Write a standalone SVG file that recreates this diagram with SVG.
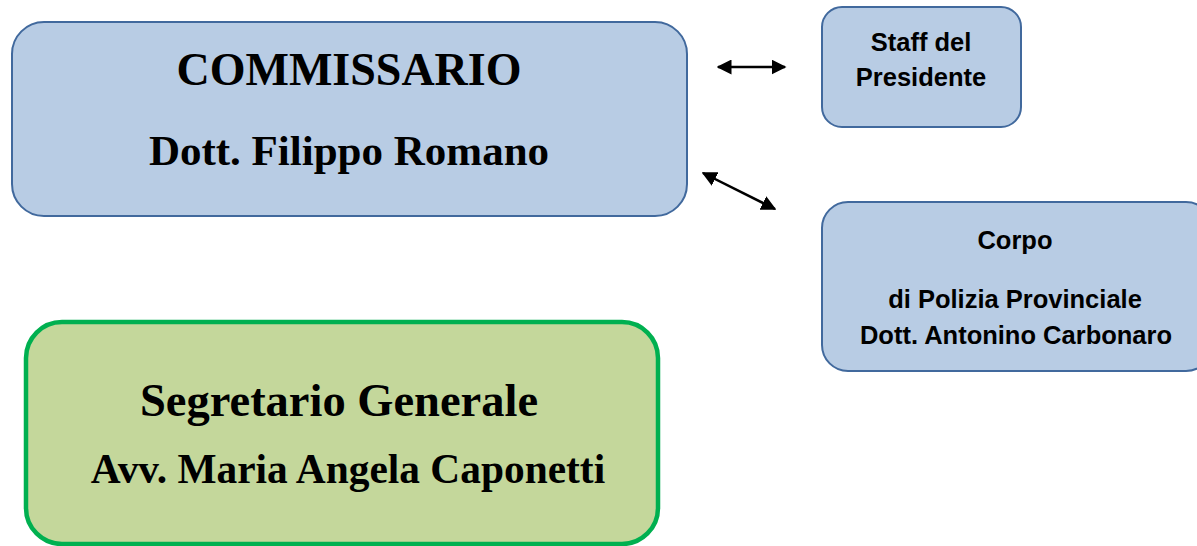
<svg xmlns="http://www.w3.org/2000/svg" width="1197" height="546" viewBox="0 0 1197 546">
<style>
.blue{fill:#b8cce4;stroke:#41699d;stroke-width:2}
.green{fill:#c4d79b;stroke:#00b050;stroke-width:4.5}
.serif{font-family:"Liberation Serif","Times New Roman",serif;font-weight:bold;fill:#000;text-anchor:middle}
.sans{font-family:"Liberation Sans",Arial,sans-serif;font-weight:bold;fill:#000;text-anchor:middle;font-size:25.5px}
.conn{stroke:#000;stroke-width:2.5;fill:none}
</style>
<defs>
<marker id="ah" viewBox="0 0 10 10" refX="9" refY="5" markerWidth="6" markerHeight="6" orient="auto-start-reverse" markerUnits="strokeWidth">
<path d="M0,0 L10,5 L0,10 z" fill="#000"/>
</marker>
</defs>
<g id="commissario">
<rect class="blue" x="12" y="22" width="675" height="194" rx="32"/>
<text class="serif" x="349" y="85" font-size="46">COMMISSARIO</text>
<text class="serif" x="349" y="165" font-size="43">Dott. Filippo Romano</text>
</g>
<g id="staff">
<rect class="blue" x="822" y="7" width="199" height="120" rx="20"/>
<text class="sans" x="921" y="51">Staff del</text>
<text class="sans" x="921" y="86">Presidente</text>
</g>
<g id="corpo">
<rect class="blue" x="822" y="202" width="390" height="169" rx="26"/>
<text class="sans" x="1015" y="249">Corpo</text>
<text class="sans" x="1015" y="308">di Polizia Provinciale</text>
<text class="sans" x="1016" y="344">Dott. Antonino Carbonaro</text>
</g>
<g id="segretario">
<rect class="green" x="26" y="322" width="632" height="222" rx="36"/>
<text class="serif" x="339" y="416" font-size="46.5">Segretario Generale</text>
<text class="serif" x="348" y="483" font-size="41.4">Avv. Maria Angela Caponetti</text>
</g>
<g id="connectors">
<line class="conn" x1="718" y1="67" x2="785" y2="67" marker-start="url(#ah)" marker-end="url(#ah)"/>
<line class="conn" x1="703" y1="173" x2="775" y2="209" marker-start="url(#ah)" marker-end="url(#ah)"/>
</g>
</svg>
